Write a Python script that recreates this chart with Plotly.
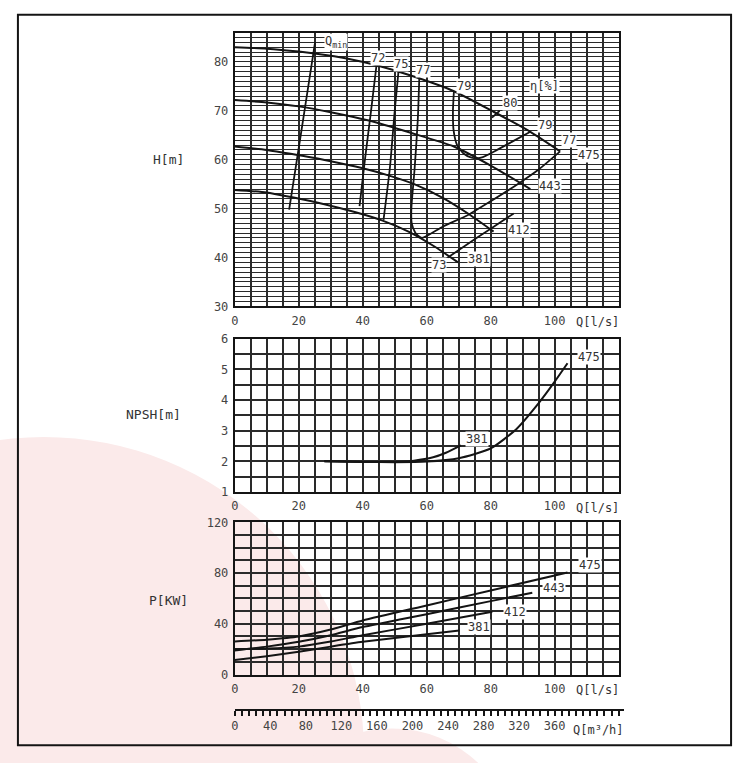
import plotly.graph_objects as go

# ---------------- data ----------------
# H-Q curves (Q in l/s, H in m) per impeller diameter
h_q_475 = [0, 10, 20, 25, 35, 44.3, 55, 68.5, 80.9, 92.4, 101.7]
h_h_475 = [83, 82.7, 82.1, 81.7, 80.7, 79.3, 77.2, 74.0, 69.8, 65.7, 61.7]
h_q_443 = [0, 10, 20, 30, 41.9, 55, 68.5, 80, 92.4]
h_h_443 = [72.2, 71.7, 70.9, 69.7, 68.0, 65.5, 62.7, 58.8, 54.0]
h_q_412 = [0, 10, 21.1, 30, 39.7, 48, 56.1, 65, 72.9, 80.9]
h_h_412 = [62.7, 62.0, 60.8, 59.7, 58.3, 56.8, 55.0, 52.2, 49.0, 45.3]
h_q_381 = [0, 10, 18, 28, 37.5, 46, 54.3, 62.3, 69.8]
h_h_381 = [53.8, 53.3, 52.3, 50.9, 49.3, 47.6, 45.3, 42.3, 39.0]

# iso-efficiency lines
qmin_q = [17, 21, 25.1]
qmin_h = [49.8, 66.6, 84]
eff72_q = [39, 40.6, 42.6, 44.3]
eff72_h = [50.5, 59.5, 70, 79.3]
eff75_q = [46.5, 48.5, 50, 51.2]
eff75_h = [47.7, 58.4, 70, 78.2]
eff77_q = [57.7, 57.2, 56.2, 55.2, 55.3, 56.5, 58.5, 65, 72.9, 80, 88.4, 95, 101.7]
eff77_h = [77.0, 68, 58, 50, 47, 45, 44.0, 46.3, 48.7, 51.5, 55.0, 58.0, 61.7]
eff79_q = [68.5, 68.2, 68.4, 69.5, 71.6, 74, 77, 82, 87, 92.4]
eff79_h = [74.0, 70, 66, 63, 61.2, 60.4, 60.4, 62.0, 63.8, 65.7]
eff80_q = [80.4, 82.8]
eff80_h = [68.6, 70.0]
eff73_q = [66.6, 72, 80, 87.2]
eff73_h = [40.0, 42.4, 45.9, 49.0]

# NPSH curves
npsh_q_475 = [28, 40, 50, 60, 70, 80, 88, 95, 100, 104]
npsh_v_475 = [2.0, 1.98, 1.97, 1.99, 2.1, 2.42, 3.05, 3.9, 4.6, 5.2]
npsh_q_381 = [28, 40, 50, 56, 62, 66, 70.7]
npsh_v_381 = [2.0, 1.98, 1.98, 2.02, 2.13, 2.28, 2.52]

# Power curves (kW)
p_q_475 = [0, 10, 20, 30, 40, 60, 80, 104]
p_v_475 = [26, 27.5, 30, 35.5, 42.6, 54.5, 66.3, 80.5]
p_q_443 = [0, 10, 20, 30, 40, 60, 80, 93]
p_v_443 = [19, 22, 25.8, 31, 37.4, 47.6, 57.9, 64.5]
p_q_412 = [0, 10, 20, 30, 40, 60, 80.5]
p_v_412 = [20, 20.5, 22, 26, 31, 40, 49.5]
p_q_381 = [0, 10, 20, 30, 40, 60, 70.2]
p_v_381 = [11.5, 14.5, 18, 22, 25.8, 31.8, 34.8]

x_ticks = [0, 20, 40, 60, 80, 100]
h_ticks = [30, 40, 50, 60, 70, 80]
npsh_ticks = [1, 2, 3, 4, 5, 6]
p_ticks = [0, 40, 80, 120]
m3h_ticks = [0, 40, 80, 120, 160, 200, 240, 280, 320, 360]

# ---------------- layout helpers ----------------
W, H = 744, 763
FONT = "DejaVu Sans Mono"
GRID = "#2a2a2a"
INK = "#141414"


def px_x(p):
    return p / W


def px_y(p):
    return (H - p) / H


XDOM = [px_x(232), px_x(618)]

fig = go.Figure()


def curve(x, y, xa, ya, shape="spline", width=2.0):
    fig.add_trace(go.Scatter(x=x, y=y, xaxis=xa, yaxis=ya, mode="lines",
                             line=dict(color=INK, width=width, shape=shape, smoothing=0.6),
                             hoverinfo="skip", showlegend=False))


# H curves
for qx, hy in [(h_q_475, h_h_475), (h_q_443, h_h_443), (h_q_412, h_h_412), (h_q_381, h_h_381)]:
    curve(qx, hy, "x", "y")
for qx, hy in [(qmin_q, qmin_h), (eff72_q, eff72_h), (eff75_q, eff75_h), (eff77_q, eff77_h),
               (eff79_q, eff79_h), (eff80_q, eff80_h), (eff73_q, eff73_h)]:
    curve(qx, hy, "x", "y", width=1.8)

# NPSH
curve(npsh_q_475, npsh_v_475, "x2", "y2")
curve(npsh_q_381, npsh_v_381, "x2", "y2")

# Power
for qx, pv in [(p_q_475, p_v_475), (p_q_443, p_v_443), (p_q_412, p_v_412), (p_q_381, p_v_381)]:
    curve(qx, pv, "x3", "y3")

# invisible trace for the m3/h ruler axis
fig.add_trace(go.Scatter(x=[0, 432], y=[0, 0], xaxis="x4", yaxis="y4", mode="lines",
                         line=dict(color="rgba(0,0,0,0)"), hoverinfo="skip", showlegend=False))

tickfont = dict(family=FONT, size=12, color="#444444")


def xaxis_cfg(anchor):
    return dict(domain=XDOM, range=[0, 120], anchor=anchor,
                tickvals=x_ticks, ticks="", showgrid=True, gridcolor=GRID, gridwidth=2,
                minor=dict(dtick=5, tick0=0, showgrid=True, gridcolor=GRID, gridwidth=2),
                showline=True, linecolor=INK, linewidth=2, mirror=True,
                zeroline=False, tickfont=tickfont, ticklabelstandoff=2, fixedrange=True)


def yaxis_cfg(anchor, dom, rng, tv, minor_dt, gw=2):
    return dict(domain=dom, range=rng, anchor=anchor, tickvals=tv, ticks="",
                showgrid=True, gridcolor=GRID, gridwidth=gw,
                minor=dict(dtick=minor_dt, tick0=0, showgrid=True, gridcolor=GRID, gridwidth=gw),
                showline=True, linecolor=INK, linewidth=2, mirror=True,
                zeroline=False, tickfont=tickfont, ticklabelstandoff=2, fixedrange=True)


layout = dict(
    width=W, height=H, autosize=False,
    margin=dict(l=0, r=0, t=0, b=0),
    paper_bgcolor="white", plot_bgcolor="rgba(0,0,0,0)",
    showlegend=False,
    xaxis=xaxis_cfg("y"),
    yaxis=yaxis_cfg("x", [px_y(305), px_y(26)], [30, 86], h_ticks, 1, gw=1.3),
    xaxis2=xaxis_cfg("y2"),
    yaxis2=yaxis_cfg("x2", [px_y(494), px_y(338)], [1, 6], npsh_ticks, 0.5),
    xaxis3=xaxis_cfg("y3"),
    yaxis3=yaxis_cfg("x3", [px_y(680), px_y(525)], [0, 120], p_ticks, 10),
    xaxis4=dict(domain=[px_x(232), px_x(623)], range=[0, 432 * (623 - 232) / (618 - 232)],
                anchor="y4", side="bottom",
                tickvals=m3h_ticks, ticks="outside", ticklen=5, tickwidth=1.5, tickcolor=INK,
                minor=dict(dtick=8, tick0=0, ticks="outside", ticklen=5, tickwidth=1.5, tickcolor=INK),
                showline=True, linecolor=INK, linewidth=2, showgrid=False, zeroline=False,
                tickfont=dict(family=FONT, size=12, color="#444444"), fixedrange=True),
    yaxis4=dict(domain=[px_y(715), px_y(705)], range=[0, 1], anchor="x4", visible=False,
                fixedrange=True),
)
fig.update_layout(**layout)

# ---------------- shapes: watermark & frame ----------------
fig.add_shape(type="circle", xref="paper", yref="paper", layer="below",
              x0=px_x(40 - 322), x1=px_x(40 + 322), y0=px_y(760 + 322), y1=px_y(760 - 322),
              fillcolor="#fbeaea", line=dict(width=0))
fig.add_shape(type="circle", xref="paper", yref="paper", layer="below",
              x0=px_x(390 - 125), x1=px_x(390 + 125), y0=px_y(860 + 125), y1=px_y(860 - 125),
              fillcolor="#fbeaea", line=dict(width=0))
fig.add_shape(type="rect", xref="paper", yref="paper", layer="above",
              x0=px_x(14), x1=px_x(731), y0=px_y(752), y1=px_y(8),
              line=dict(color=INK, width=2), fillcolor="rgba(0,0,0,0)")

# ---------------- annotations ----------------
lab_font = dict(family=FONT, size=12, color="#333333")


def label(text, x, y, xr, yr, xanchor="center", bg="white"):
    fig.add_annotation(text=text, x=x, y=y, xref=xr, yref=yr, showarrow=False,
                       xanchor=xanchor, yanchor="middle", font=lab_font, bgcolor=bg, borderpad=0)


# top chart labels
label("Q<sub>min</sub>", 28, 84, "x", "y", xanchor="left")
label("72", 44.9, 80.8, "x", "y")
label("75", 52, 79.6, "x", "y")
label("77", 58.9, 78.4, "x", "y")
label("79", 71.7, 75, "x", "y")
label("η[%]", 96.9, 75, "x", "y")
label("80", 86, 71.6, "x", "y")
label("79", 96.9, 67, "x", "y")
label("77", 104.4, 64, "x", "y")
label("475", 110.6, 61, "x", "y")
label("443", 98.4, 54.6, "x", "y")
label("412", 88.8, 45.6, "x", "y")
label("381", 76.3, 39.6, "x", "y")
label("73", 63.9, 38.4, "x", "y")

# NPSH labels
label("475", 110.6, 5.39, "x2", "y2")
label("381", 75.7, 2.72, "x2", "y2")

# power labels
label("475", 110.9, 86.7, "x3", "y3")
label("443", 99.7, 68, "x3", "y3")
label("412", 87.5, 49.5, "x3", "y3")
label("381", 76.3, 37.2, "x3", "y3")

# axis titles
title_font = dict(family=FONT, size=13, color="#333333")
for txt, xp, yp in [("H[m]", 165, 155), ("NPSH[m]", 150, 415), ("P[KW]", 165, 605)]:
    fig.add_annotation(text=txt, x=px_x(xp), y=px_y(yp), xref="paper", yref="paper",
                       showarrow=False, font=title_font, xanchor="center", yanchor="middle")
for yp in [321, 510, 696]:
    fig.add_annotation(text="Q[l/s]", x=px_x(597), y=px_y(yp), xref="paper", yref="paper",
                       showarrow=False, font=dict(family=FONT, size=12, color="#333333"),
                       xanchor="center", yanchor="middle")
fig.add_annotation(text="Q[m³/h]", x=px_x(598), y=px_y(737), xref="paper", yref="paper",
                   showarrow=False, font=dict(family=FONT, size=12, color="#333333"),
                   xanchor="center", yanchor="middle")

fig.write_html("out.html", config={"displayModeBar": False},
               post_script="document.body.style.margin='0';document.body.style.overflow='hidden';")
